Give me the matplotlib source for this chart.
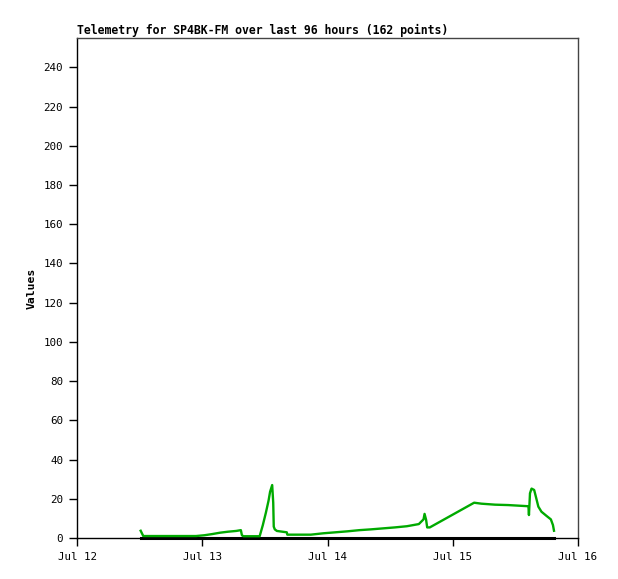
import matplotlib
matplotlib.use('Agg')
import matplotlib.pyplot as plt

# hours since Jul 12 00:00
hours = [12.2, 12.7, 22.8, 24.4, 25.9, 27.4, 28.9, 30.5, 31.4, 31.6, 31.9,
         35.0, 35.6, 36.2, 36.7, 37.0, 37.4, 37.6, 37.7, 37.9, 38.3, 40.2,
         40.3, 44.8, 47.2, 49.5, 51.8, 54.1, 56.3, 58.6, 60.9, 63.2, 65.5,
         66.4, 66.6, 66.9, 67.1, 67.6, 76.1, 77.5, 80.1, 82.6, 86.5, 86.6,
         86.8, 87.1, 87.6, 88.0, 88.4, 89.0, 90.0, 90.8, 91.2, 91.4]
values = [3.7, 1.0, 1.0, 1.4, 2.0, 2.7, 3.2, 3.6, 4.0, 1.4, 0.9,
          0.9, 6.5, 13.0, 19.0, 23.6, 27.0, 18.0, 5.8, 4.4, 3.6, 2.9,
          1.7, 1.7, 2.4, 2.9, 3.4, 4.0, 4.4, 4.9, 5.4, 6.0, 7.1,
          9.5, 12.3, 9.2, 5.4, 5.4, 18.0, 17.5, 17.0, 16.8, 16.2, 11.7,
          22.8, 25.2, 24.5, 20.3, 16.0, 13.4, 11.2, 9.5, 6.6, 3.7]
zeros = [0.0] * len(hours)

xticks = [0, 24, 48, 72, 96]
xlabels = ["Jul 12", "Jul 13", "Jul 14", "Jul 15", "Jul 16"]
yticks = list(range(0, 241, 20))

plt.rcParams['font.family'] = ['DejaVu Sans Mono']

fig = plt.figure(figsize=(6.18, 5.79), dpi=100)
ax = fig.add_axes([77 / 618, 41 / 579, 501 / 618, 500 / 579])

ax.plot(hours, zeros, color="black", lw=2.2, zorder=2, clip_on=False)
ax.plot(hours, values, color="#00AA00", lw=1.7, zorder=3)

ax.set_xlim(0, 96)
ax.set_ylim(0, 255)
ax.set_xticks(xticks)
ax.set_xticklabels(xlabels, fontsize=7.8)
ax.set_yticks(yticks)
ax.tick_params(axis="y", labelsize=7.8, length=6, width=1, pad=4)
ax.tick_params(axis="x", length=6, width=1, pad=4)
for side, s in ax.spines.items():
    s.set_linewidth(1)
    if side in ("top", "right"):
        s.set_color("#444444")

ax.set_ylabel("Values", fontsize=8.2, fontweight="bold", labelpad=5)
ax.set_title("Telemetry for SP4BK-FM over last 96 hours (162 points)",
             fontsize=8.3, fontweight="bold", loc="left", pad=3)

plt.savefig("out.png", dpi=100)
plt.close()
